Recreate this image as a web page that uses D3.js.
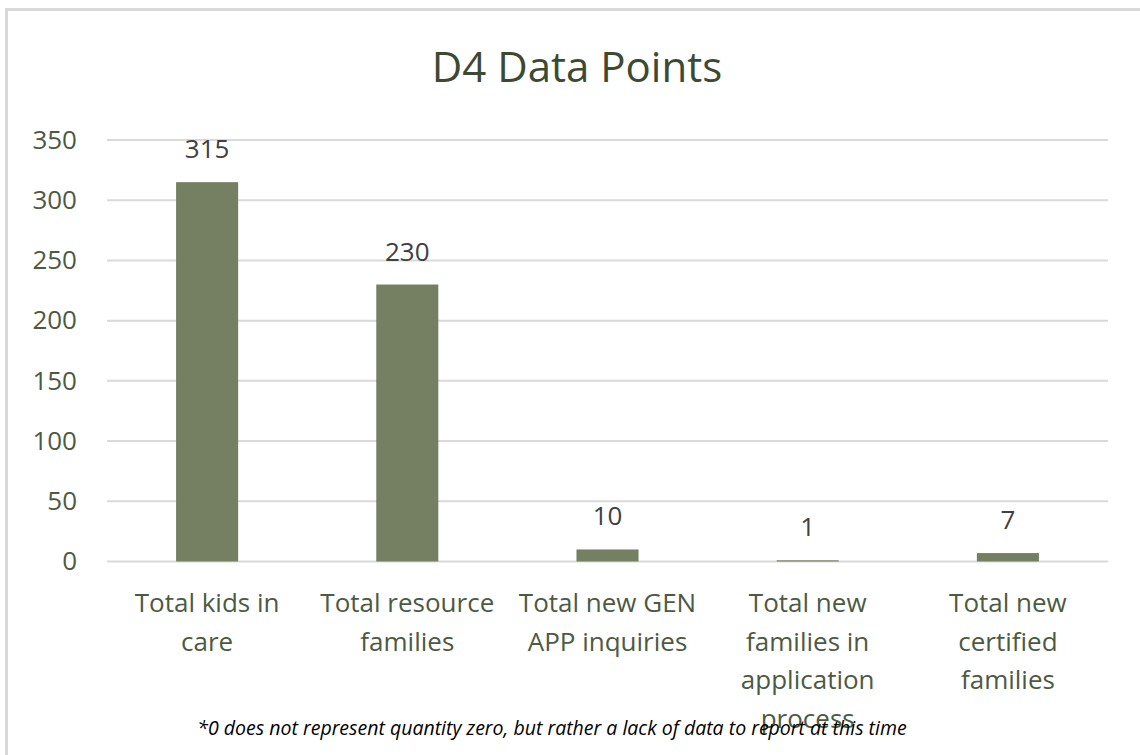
<!DOCTYPE html>
<html>
<head>
<meta charset="utf-8">
<script src="https://cdn.jsdelivr.net/npm/d3@7"></script>
<style>
	body { margin: 0; background: #fff; }
	svg text { font-family: 'Open Sans', sans-serif; }
</style>
</head>
<body>
<div class="chart"></div>
<script>
// D4 data points bar chart
const categories = [
	['Total kids in', 'care'],
	['Total resource', 'families'],
	['Total new GEN', 'APP inquiries'],
	['Total new', 'families in', 'application', 'process'],
	['Total new', 'certified', 'families']
]
const values = [315, 230, 10, 1, 7]
const yTicks = [0, 50, 100, 150, 200, 250, 300, 350]

const W = 1140
const H = 755
const margin = ({top: 140, right: 32, bottom: 193.5, left: 107})
const width = W - margin.left - margin.right
const height = H - margin.top - margin.bottom

const svg = d3.select('.chart')
	.append('svg')
	.attr('width', W)
	.attr('height', H)

// outer frame
svg.append('rect')
	.attr('x', 6.5)
	.attr('y', 9.5)
	.attr('width', W + 20)
	.attr('height', H + 20)
	.attr('fill', 'none')
	.attr('stroke', '#d9d9d9')
	.attr('stroke-width', 3)

// title
svg.append('text')
	.attr('x', 577)
	.attr('y', 82)
	.attr('text-anchor', 'middle')
	.attr('font-size', '42px')
	.attr('fill', '#3d4a33')
	.text('D4 Data Points')

const g = svg.append('g')
	.attr('transform', `translate(${margin.left},${margin.top})`)

const xScale = d3.scaleBand()
	.domain(d3.range(values.length))
	.range([0, width])
	.paddingInner(0.69)
	.paddingOuter(0.345)

const yScale = d3.scaleLinear()
	.domain([0, 350])
	.range([height, 0])

// gridlines
g.append('g')
	.selectAll('line')
	.data(yTicks)
	.enter()
	.append('line')
	.attr('x1', 0)
	.attr('x2', width)
	.attr('y1', d => yScale(d))
	.attr('y2', d => yScale(d))
	.attr('stroke', '#d9d9d9')
	.attr('stroke-width', 2)

// y axis labels
const yAxis = d3.axisLeft(yScale)
	.tickValues(yTicks)
	.tickSize(0)
	.tickPadding(30)

g.append('g')
	.attr('class', 'axis y-axis')
	.call(yAxis)
	.call(s => s.select('.domain').remove())
	.selectAll('text')
	.attr('font-family', "'Open Sans', sans-serif")
	.attr('font-size', '26px')
	.attr('fill', '#4d5a42')

// bars
g.selectAll('rect.bar')
	.data(values)
	.enter()
	.append('rect')
	.attr('class', 'bar')
	.attr('x', (d, i) => xScale(i))
	.attr('y', d => yScale(d))
	.attr('width', xScale.bandwidth())
	.attr('height', d => height - yScale(d))
	.attr('fill', '#758063')

// value labels
g.selectAll('text.val')
	.data(values)
	.enter()
	.append('text')
	.attr('class', 'val')
	.attr('x', (d, i) => xScale(i) + xScale.bandwidth() / 2)
	.attr('y', d => yScale(d) - 24)
	.attr('text-anchor', 'middle')
	.attr('font-size', '26px')
	.attr('fill', '#404040')
	.text(d => d)

// category labels
const cat = g.append('g')
	.selectAll('text')
	.data(categories)
	.enter()
	.append('text')
	.attr('text-anchor', 'middle')
	.attr('font-size', '26px')
	.attr('fill', '#4d5a42')
	.attr('transform', (d, i) => `translate(${xScale(i) + xScale.bandwidth() / 2},${height + 50.5})`)

cat.selectAll('tspan')
	.data(d => d)
	.enter()
	.append('tspan')
	.attr('x', 0)
	.attr('y', (d, i) => i * 38.5)
	.text(d => d)

// footnote
svg.append('text')
	.attr('x', 552)
	.attr('y', 735)
	.attr('text-anchor', 'middle')
	.attr('font-size', '19.5px')
	.attr('font-style', 'italic')
	.attr('fill', '#000')
	.text('*0 does not represent quantity zero, but rather a lack of data to report at this time')
</script>
</body>
</html>
